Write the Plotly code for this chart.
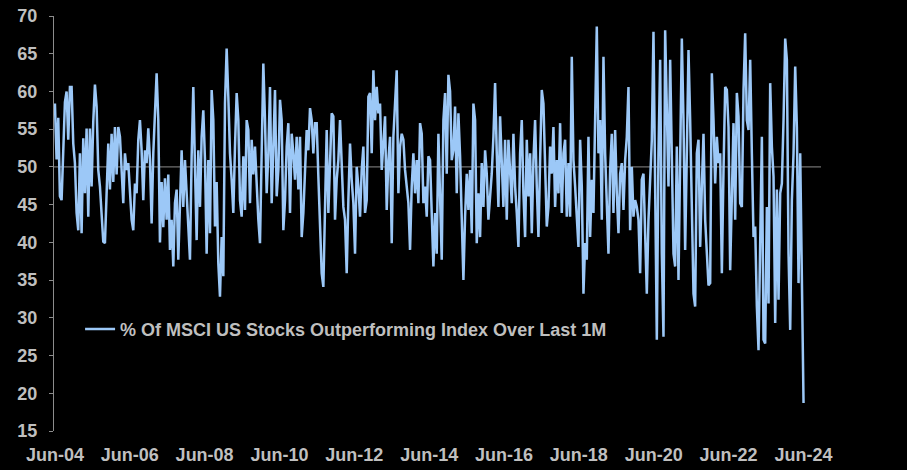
import pandas as pd
import plotly.graph_objects as go

# % of MSCI US stocks outperforming index over last 1M (~16-day spacing)
seg_2004_2007 = [58.4, 51, 56.5, 46.1, 45.6, 51.4, 58.6, 60, 53.6, 60.6, 60.6, 53.1, 50.5, 43.9, 41.6, 51.8,
                 41.2, 53.8, 46.5, 55.1, 43.4, 55.1, 47.4, 56, 60.9, 58, 49.6, 47.4, 43, 40.1, 39.9, 47.4,
                 53.1, 47, 54.4, 48, 55.3, 49, 55.3, 54, 49.1, 45.2, 51.8, 49.6, 50.5, 47.4, 43, 41.6,
                 47.8, 46.5, 53.6, 56.2, 52.2, 45.6, 52.2, 50.5, 55.1, 50.9, 42.5, 51.8, 58.4, 62.4, 56.2]
seg_2007_2010 = [40, 48, 42, 48.5, 43, 49, 39, 43, 36.8, 45.2, 47, 37.7, 44.7, 52.2, 44.7, 50.9, 46.5, 42.1,
                 37.7, 51.4, 60.6, 50, 40.3, 52.2, 44.7, 54, 57.5, 50.9, 38.5, 50.9, 41.2, 60.2, 56.2, 42.1,
                 48, 37.2, 32.8, 40.7, 35.5, 58.4, 65.7, 59.3, 51.8, 48.3, 43.9, 52.7, 59.8, 56.2, 45.6,
                 43.4, 51.4, 44.3, 56.2, 54.9, 45.2, 53.6, 49, 52.7, 46.5, 43, 39.9, 50.9, 63.7, 56.2,
                 46.5, 51.8]
seg_2010_2013 = [60.6, 45.2, 51.8, 60.2, 46.1, 49.6, 58.9, 56.2, 41.6, 45.6, 52.7, 55.8, 43.9, 54.4, 51.8,
                 48.3, 54, 47, 54, 40.7, 43.9, 50.9, 54.9, 52.2, 57.8, 56.2, 51.8, 55.8, 55.8, 48.7, 43,
                 35.9, 34.1, 44.7, 54.9, 43.9, 50, 57.1, 56.7, 43, 48.3, 50.9, 56.2, 49.6, 44.7, 43, 35.9,
                 45.6, 53.1, 48.3, 45.2, 38.5, 50, 47.4, 43.4, 49.6, 52.7, 43.9, 45.6, 59.3, 59.8, 51.8,
                 62.8, 56.2, 60.6, 57.1]
seg_2013_2016 = [58.4, 49.6, 52.7, 56.7, 44.3, 50.9, 54, 39.9, 54, 58.9, 62.8, 46.5, 52.7, 54.4, 53.6,
                 49.6, 47.4, 45.2, 39, 47.4, 51.8, 46.5, 50.9, 45.2, 55.8, 54.4, 45.2, 47.4, 43.4, 51.4,
                 50.9, 43.9, 36.8, 43.9, 38.5, 54.4, 43.9, 37.7, 56.2, 59.8, 49.1, 62.2, 60, 50.9, 52.2,
                 58, 46.5, 57.1, 51.4, 44, 35, 43.4, 49.1, 44.3, 49.6, 41.2, 58.4, 56.2, 39.9, 46.5, 40.7,
                 50.5, 44.7, 52.2, 49.1, 43]
seg_2016_2019 = [46, 49.1, 54, 61.1, 51.8, 44.7, 56.7, 50, 44.7, 53.6, 43, 53.6, 49.6, 45.2, 54.4, 47.4,
                 43.9, 39.4, 51.8, 56.2, 46.5, 40.7, 53.6, 46.1, 51.8, 41.2, 50.9, 56.2, 47.4, 40.7, 50.9,
                 60.2, 58.4, 48.3, 42.1, 44.7, 52.7, 49.1, 55.3, 44.7, 50.9, 46.5, 55.8, 43.9, 51.8, 53.6,
                 43.4, 50.5, 43.4, 64.6, 50.9, 47.4, 43, 39.4, 53.6, 47.4, 33.2, 39.9, 37.7, 54, 40.7,
                 48.3, 43.9, 58.4, 68.6, 51.8]
seg_2019_2022 = [56.2, 43, 64.6, 51.8, 46, 38.5, 49.6, 54.4, 43.9, 54.9, 46.5, 41.2, 49.1, 50.5, 44.3,
                 50.9, 54, 60.6, 41.6, 50, 43.4, 45.6, 44.7, 43, 35.9, 48.3, 49.1, 42.1, 33.2, 43, 47.4,
                 53.6, 67.9, 43, 27.1, 51.8, 64.2, 38.5, 27.5, 68.1, 57.1, 47.4, 64.2, 49.6, 38.5, 36.8,
                 52.7, 35, 50.9, 67, 56.2, 39, 51.8, 65.5, 56.2, 43, 33.2, 31.5, 51.8, 53.6, 39.4, 47.4,
                 54.4, 43, 37.7, 34.3]
seg_2022_2024 = [34.6, 62.4, 56.2, 47.8, 54, 50.5, 51.8, 35.9, 49.6, 60.6, 60.2, 55.3, 36.3, 47.4, 55.8,
                 43, 59.8, 56.7, 45.2, 44.7, 60.2, 67.7, 56.2, 54.9, 64.2, 51.8, 40.7, 42.1, 31.5, 25.7,
                 43, 54, 27.1, 26.6, 44.7, 31.9, 61.1, 52.7, 48.7, 29.3, 47, 32.4, 46.5, 47.8, 56.2, 67,
                 64.2, 38.5, 28.4, 45.6, 51.8, 63.3, 55.3, 34.6, 51.8, 33.2, 18.7]

values = (seg_2004_2007 + seg_2007_2010 + seg_2010_2013 + seg_2013_2016
          + seg_2016_2019 + seg_2019_2022 + seg_2022_2024)
start_date = "2004-06-01"
dates = pd.date_range(start_date, periods=len(values), freq=pd.Timedelta(hours=390.5))

tick_years = list(range(2004, 2025, 2))
tick_vals = [f"{y}-06-01" for y in tick_years]
tick_text = [f"Jun-{y % 100:02d}" for y in tick_years]
y_ticks = list(range(15, 71, 5))
ref_level = 50
series_name = "% Of MSCI US Stocks Outperforming Index Over Last 1M"

TXT = "#bfbfbf"
FONT = "Liberation Sans, Arial, sans-serif"

fig = go.Figure()
fig.add_trace(go.Scatter(x=dates, y=values, mode="lines", name=series_name,
                         line=dict(color="#9cc8f7", width=2.5)))
fig.add_hline(y=ref_level, line=dict(color="#8c8c8c", width=1), layer="below")

fig.update_layout(
    width=907, height=470,
    paper_bgcolor="#000000", plot_bgcolor="#000000",
    margin=dict(l=54, r=86, t=16, b=39, autoexpand=False),
    showlegend=True,
    legend=dict(x=0.034, y=0.245, xanchor="left", yanchor="middle",
                bgcolor="rgba(0,0,0,0)",
                font=dict(family=FONT, size=18, color=TXT, weight="bold")),
    xaxis=dict(type="date", range=["2004-05-23", "2024-11-19"], automargin=False,
               tickvals=tick_vals, ticktext=tick_text, showgrid=False, zeroline=False,
               showline=False, ticks="", ticklabelstandoff=11,
               tickfont=dict(family=FONT, size=18, color=TXT, weight="bold")),
    yaxis=dict(range=[15, 70], tickvals=y_ticks, showgrid=False, zeroline=False, automargin=False,
               showline=True, linecolor="#8c8c8c", linewidth=1,
               ticks="outside", ticklen=4, tickcolor="#8c8c8c", ticklabelstandoff=8,
               tickfont=dict(family=FONT, size=18, color=TXT, weight="bold")),
)

fig.write_html("out.html", config={"displayModeBar": False},
               post_script="document.body.style.margin='0px';document.body.style.background='#000';")
